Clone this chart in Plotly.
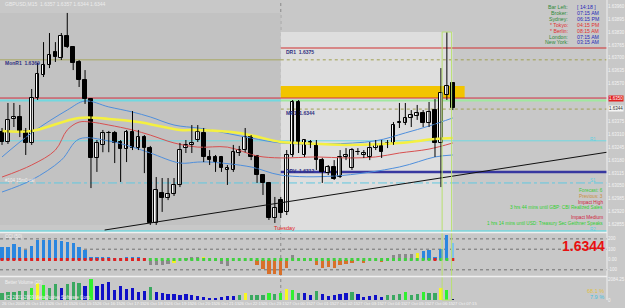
import plotly.graph_objects as go

W, H = 625, 308
ML, MR, MT, MB = 0, 15, 0, 8
PW, PH = W - ML - MR, H - MT - MB

def px(x):
    return (x - ML) / PW

def py(y):
    return (PH - (y - MT)) / PH

FONT = "Liberation Sans"

# ---------------- data ----------------
bars = list(range(77))
opens = [1.63324, 1.63273, 1.63390, 1.63400, 1.63329, 1.63268, 1.63496, 1.63613, 1.63664, 1.63730,
         1.63699, 1.63811, 1.63755, 1.63679, 1.63588, 1.63491, 1.63192, 1.63258, 1.63319, 1.63319,
         1.63273, 1.63237, 1.63324, 1.63242, 1.63298, 1.63242, 1.62862, 1.63014, 1.62989, 1.63009,
         1.63055, 1.63242, 1.63258, 1.63283, 1.63319, 1.63197, 1.63197, 1.63197, 1.63131, 1.63131,
         1.63217, 1.63232, 1.63298, 1.63202, 1.63105, 1.63065, 1.62887, 1.62978, 1.62918, 1.63207,
         1.63476, 1.63207, 1.63273, 1.63258, 1.63181, 1.63115, 1.63146, 1.63095, 1.63197, 1.63141,
         1.63221, 1.63207, 1.63197, 1.63242, 1.63253, 1.63258, 1.63268, 1.63369, 1.63369, 1.63395,
         1.63405, 1.63420, 1.63369, 1.63435, 1.63268, 1.63511, 1.63572]
highs = [1.63344, 1.63471, 1.63471, 1.63461, 1.63344, 1.63542, 1.63674, 1.63780, 1.63826, 1.63780,
         1.63826, 1.63928, 1.63760, 1.63689, 1.63638, 1.63496, 1.63283, 1.63334, 1.63329, 1.63329,
         1.63283, 1.63334, 1.63430, 1.63334, 1.63308, 1.63253, 1.63095, 1.63090, 1.63090, 1.63090,
         1.63268, 1.63283, 1.63359, 1.63359, 1.63344, 1.63232, 1.63207, 1.63202, 1.63156, 1.63258,
         1.63253, 1.63344, 1.63308, 1.63207, 1.63110, 1.63070, 1.62994, 1.62994, 1.63232, 1.63486,
         1.63486, 1.63283, 1.63283, 1.63283, 1.63192, 1.63156, 1.63181, 1.63232, 1.63242, 1.63242,
         1.63242, 1.63232, 1.63273, 1.63283, 1.63283, 1.63283, 1.63374, 1.63471, 1.63471, 1.63435,
         1.63461, 1.63435, 1.63476, 1.63491, 1.63648, 1.63831, 1.63572]
lows = [1.63258, 1.63263, 1.63349, 1.63298, 1.63207, 1.63258, 1.63486, 1.63603, 1.63648, 1.63679,
        1.63689, 1.63750, 1.63638, 1.63552, 1.63466, 1.63039, 1.63121, 1.63221, 1.63221, 1.63166,
        1.63070, 1.63171, 1.63232, 1.63232, 1.63115, 1.62852, 1.62852, 1.62918, 1.62978, 1.62999,
        1.63044, 1.63217, 1.63217, 1.63273, 1.63171, 1.63156, 1.63121, 1.63121, 1.63055, 1.63121,
        1.63202, 1.63221, 1.63181, 1.63065, 1.63004, 1.62877, 1.62862, 1.62887, 1.62902, 1.63197,
        1.63217, 1.63197, 1.63242, 1.63131, 1.63065, 1.63105, 1.63080, 1.63090, 1.63181, 1.63131,
        1.63207, 1.63192, 1.63181, 1.63232, 1.63192, 1.63242, 1.63258, 1.63344, 1.63359, 1.63349,
        1.63385, 1.63349, 1.63349, 1.63197, 1.63044, 1.63486, 1.63435]
closes = [1.63273, 1.63385, 1.63400, 1.63324, 1.63268, 1.63496, 1.63618, 1.63664, 1.63714, 1.63704,
          1.63811, 1.63755, 1.63674, 1.63588, 1.63491, 1.63192, 1.63268, 1.63319, 1.63319, 1.63268,
          1.63237, 1.63324, 1.63242, 1.63298, 1.63242, 1.62862, 1.63029, 1.62989, 1.63009, 1.63055,
          1.63232, 1.63258, 1.63268, 1.63324, 1.63197, 1.63181, 1.63171, 1.63141, 1.63141, 1.63221,
          1.63232, 1.63298, 1.63197, 1.63105, 1.63065, 1.62887, 1.62938, 1.62912, 1.63207, 1.63476,
          1.63273, 1.63283, 1.63258, 1.63181, 1.63121, 1.63146, 1.63085, 1.63197, 1.63207, 1.63232,
          1.63221, 1.63217, 1.63242, 1.63258, 1.63221, 1.63268, 1.63359, 1.63374, 1.63395, 1.63410,
          1.63420, 1.63369, 1.63425, 1.63268, 1.63522, 1.63557, 1.63445]

# moving averages / bands (sampled at bar positions)
ema_bars = [0, 5, 13, 18, 23, 30, 33, 40, 47, 50, 58, 67, 73, 76]
ema_vals = [1.63329, 1.63329, 1.63395, 1.63390, 1.63374, 1.63334, 1.63334, 1.63319, 1.63273, 1.63268,
            1.63258, 1.63268, 1.63288, 1.63293]
mid_bars = [0, 5, 9, 11, 13, 15, 18, 22, 25, 29, 33, 38, 43, 47, 53, 58, 63, 67, 72, 76]
mid_vals = [1.63095, 1.63156, 1.63232, 1.63334, 1.63374, 1.63374, 1.63359, 1.63334, 1.63308, 1.63268,
            1.63247, 1.63247, 1.63202, 1.63192, 1.63197, 1.63192, 1.63197, 1.63217, 1.63237, 1.63268]
up_bars = [0, 5, 11, 14, 18, 22, 25, 29, 33, 35, 42, 47, 55, 63, 68, 72, 76]
up_vals = [1.63197, 1.63319, 1.63435, 1.63481, 1.63451, 1.63425, 1.63400, 1.63359, 1.63344, 1.63334,
           1.63293, 1.63268, 1.63263, 1.63279, 1.63319, 1.63354, 1.63395]
lo_bars = [0, 5, 10, 13, 18, 22, 25, 30, 33, 35, 42, 47, 56, 67, 73, 76]
lo_vals = [1.63019, 1.63080, 1.63181, 1.63288, 1.63278, 1.63247, 1.63217, 1.63166, 1.63171, 1.63171,
           1.63146, 1.63105, 1.63100, 1.63146, 1.63197, 1.63207]

# levels
lvl_monr1 = 1.6369
lvl_dr1 = 1.6375
lvl_mr1 = 1.6344
lvl_dp = 1.6312
lvl_red = 1.63496
lvl_cyan_top = 1.63483
lvl_r1 = 1.63279
lvl_s1 = 1.63065
lvl_bottom = 1.62821
zone_lo, zone_hi = 1.63496, 1.63557
today_high = 1.63831
yday_high, yday_low = 1.63928, 1.62852
trend_bars = [17.3, 102.0]
trend_vals = [1.62826, 1.63221]

cci = [118, 118, 147, 118, 88, 127, 186, 186, 186, 186,
       176, 167, 157, 118, 88, 20, 20, 29, 20, 10,
       5, 20, 20, 20, 5, -49, -49, -49, -39, -35,
       3, 10, 20, 29, 20, 2, 2, -39, -59, 2,
       3, 2, -2, -49, -88, -137, -137, -147, -78, 39,
       2, 2, 2, -49, -78, -69, -78, -49, -39, -34,
       2, -30, 2, 2, -25, 2, 39, 49, 49, 49,
       59, 78, 88, 20, 98, 235, 157]
cci_col = (["b"] * 25 + ["g"] * 4 + ["y", "d", "g", "g", "g", "y", "d", "d", "g", "g", "d",
           "d", "d", "d", "o", "o", "o", "o", "o", "o", "g",
           "d", "d", "d", "o", "o", "o", "o", "o", "o", "o",
           "d", "o", "d", "d", "o", "d", "g", "g", "g", "g",
           "y", "b", "b", "b", "b", "b", "l"])
dot_col = ["r"] * 25 + ["G"] * 48 + ["r", "G", "G", "r"]

vol = [580, 725, 725, 783, 812, 1073, 1450, 1305, 1015, 1363,
       1073, 1363, 1537, 1450, 1247, 1827, 1247, 1363, 1537, 870,
       1247, 928, 1015, 725, 812, 1160, 725, 580, 493, 493,
       435, 520, 435, 348, 290, 203, 145, 290, 348, 348,
       435, 580, 435, 435, 435, 638, 520, 638, 957, 870,
       638, 580, 435, 812, 493, 377, 435, 520, 580, 667,
       520, 290, 348, 435, 290, 435, 435, 493, 667, 435,
       493, 725, 638, 638, 1073, 870, 60]
vol_col = ["g", "g", "g", "g", "g", "L", "y", "L", "g", "g",
           "b", "g", "g", "g", "b", "L", "b", "b", "b", "b",
           "b", "b", "b", "b", "b", "g", "b", "b", "b", "b",
           "b", "b", "b", "b", "b", "b", "b", "b", "b", "b",
           "g", "y", "g", "g", "g", "L", "g", "L", "y", "L",
           "g", "b", "b", "g", "b", "b", "b", "b", "b", "g",
           "b", "b", "b", "b", "b", "g", "g", "g", "L", "g",
           "g", "L", "g", "g", "y", "L", "n"]

tick_bars = list(range(0, 77, 4))
tick_text = ["26 Oct 2009", "26 Oct 13:15", "26 Oct 14:15", "26 Oct 15:15", "26 Oct 16:15",
             "26 Oct 17:15", "26 Oct 18:15", "26 Oct 19:15", "26 Oct 20:15", "26 Oct 21:15",
             "26 Oct 22:15", "26 Oct 23:15", "27 Oct 00:15", "27 Oct 01:15", "27 Oct 02:15",
             "27 Oct 03:15", "27 Oct 04:15", "27 Oct 05:15", "27 Oct 06:15", "27 Oct 07:15"]

info_labels = ["Bar Left:", "Broker:", "Sydney:", "* Tokyo:", "* Berlin:", "London:", "New York:"]
info_values = ["[ 14:18 ]", "07:15 AM", "06:15 PM", "04:15 PM", "08:15 AM", "07:15 AM", "03:15 AM"]
info_red = [False, False, False, True, True, False, False]

news_lines = ["Forecast: 6", "Previous: 3", "Impact High", "3 hrs 44 mins until GBP: CBI Realized Sales",
              "Impact Medium", "1 hrs 14 mins until USD: Treasury Sec Geithner Speaks"]
news_cols = ["#3cc83c", "#c8903c", "#d0203c", "#30d030", "#d0203c", "#30d030"]
news_y = [190, 196, 202, 207.5, 217, 223]

XMIN, XMAX = -0.34, 102.0
YMIN, YMAX = 1.628160, 1.639937

# ---------------- figure ----------------
fig = go.Figure()

fig.add_trace(go.Scatter(x=up_bars, y=up_vals, mode="lines", line=dict(color="#4f8fdc", width=1, shape="spline"),
                         xaxis="x", yaxis="y", hoverinfo="skip"))
fig.add_trace(go.Scatter(x=lo_bars, y=lo_vals, mode="lines", line=dict(color="#4f8fdc", width=1, shape="spline"),
                         xaxis="x", yaxis="y", hoverinfo="skip"))
fig.add_trace(go.Scatter(x=mid_bars, y=mid_vals, mode="lines", line=dict(color="#d85050", width=1, shape="spline"),
                         xaxis="x", yaxis="y", hoverinfo="skip"))
fig.add_trace(go.Scatter(x=ema_bars, y=ema_vals, mode="lines", line=dict(color="#f4f040", width=2.5, shape="spline"),
                         xaxis="x", yaxis="y", hoverinfo="skip"))

wx, wy = [], []
for i, h, l in zip(bars, highs, lows):
    wx += [i, i, None]
    wy += [l, h, None]
fig.add_trace(go.Scatter(x=wx, y=wy, mode="lines", line=dict(color="#000000", width=1),
                         xaxis="x", yaxis="y", hoverinfo="skip"))
base = [min(o, c) for o, c in zip(opens, closes)]
hgt = [max(abs(c - o), 0.00002) for o, c in zip(opens, closes)]
body_col = ["#ffffff" if c > o else "#000000" for o, c in zip(opens, closes)]
fig.add_trace(go.Bar(x=bars, y=hgt, base=base, width=0.62, marker=dict(color=body_col, line=dict(color="#000000", width=1)),
                     xaxis="x", yaxis="y", hoverinfo="skip"))

fig.add_trace(go.Scatter(x=trend_bars, y=trend_vals, mode="lines", line=dict(color="#101010", width=1),
                         xaxis="x", yaxis="y", hoverinfo="skip", cliponaxis=True))

cmap = {"b": "#2a86e0", "g": "#8a8a8a", "o": "#d8702a", "y": "#f0f020", "l": "#7cc0f0", "d": "rgba(0,0,0,0)"}
fig.add_trace(go.Bar(x=bars, y=cci, base=0, width=0.55,
                     marker=dict(color=[cmap[c] for c in cci_col], line=dict(width=0)),
                     xaxis="x", yaxis="y2", hoverinfo="skip"))
dmap = {"r": "#e02020", "G": "#40d040"}
fig.add_trace(go.Scatter(x=bars, y=[0] * len(bars), mode="markers",
                         marker=dict(symbol="square", size=3, color=[dmap[c] for c in dot_col]),
                         xaxis="x", yaxis="y2", hoverinfo="skip"))

vmap = {"g": "#3aa860", "L": "#30f030", "y": "#f8f820", "b": "#1010c8", "n": "#101060"}
fig.add_trace(go.Bar(x=bars, y=vol, width=0.55, marker=dict(color=[vmap[c] for c in vol_col], line=dict(width=0)),
                     xaxis="x", yaxis="y3", hoverinfo="skip"))

shapes = []
shapes.append(dict(type="rect", xref="x", yref="y", x0=XMIN, x1=47, y0=yday_low, y1=yday_high,
                   fillcolor="#c2c2c2", line=dict(width=0), layer="below"))
shapes.append(dict(type="rect", xref="x", yref="y", x0=47, x1=76, y0=YMIN, y1=today_high,
                   fillcolor="#dedede", line=dict(width=0), layer="below"))
shapes.append(dict(type="rect", xref="x", yref="y", x0=47, x1=78, y0=zone_lo, y1=zone_hi,
                   fillcolor="#f2c400", line=dict(width=0), layer="below"))

def hline(x0, x1, y, color, width=1, dash="solid"):
    shapes.append(dict(type="line", xref="x", yref="y", x0=x0, x1=x1, y0=y, y1=y,
                       line=dict(color=color, width=width, dash=dash), layer="below"))
hline(XMIN, 47, lvl_monr1, "#a8a860", 1)
hline(47, XMAX, lvl_monr1, "#a0a050", 1, "dot")
hline(47, XMAX, lvl_dr1, "#d03030", 1)
hline(47, XMAX, lvl_mr1, "#a0a050", 1, "dot")
hline(XMIN, XMAX, lvl_red, "#d03040", 1)
hline(XMIN, 47, lvl_cyan_top, "#70d8e0", 2)
hline(47, XMAX, lvl_cyan_top, "#a0e8a0", 2)
hline(XMIN, XMAX, lvl_r1, "#70d8e0", 1)
hline(47, XMAX, lvl_dp, "#3838a0", 2.5)
hline(XMIN, XMAX, lvl_s1, "#60c8e0", 1, "dashdot")
hline(XMIN, XMAX, lvl_bottom, "#70d8e0", 1.5)
shapes.append(dict(type="line", xref="x", yref="paper", x0=47, x1=47, y0=0, y1=1,
                   line=dict(color="#8a8a8a", width=1, dash="dot"), layer="below"))
shapes.append(dict(type="rect", xref="x", yref="paper", x0=74.2, x1=75.8, y0=0, y1=py(32),
                   line=dict(color="#b8e070", width=1), fillcolor="rgba(0,0,0,0)", layer="above"))
for lv in [200, 100, -100]:
    shapes.append(dict(type="line", xref="x", yref="y2", x0=XMIN, x1=XMAX, y0=lv, y1=lv,
                       line=dict(color="#707070", width=1, dash="dot"), layer="below"))
for yy in [232.5, 276.5]:
    shapes.append(dict(type="line", xref="paper", yref="paper", x0=0, x1=1, y0=py(yy), y1=py(yy),
                       line=dict(color="#f0f0f0", width=1.5)))
shapes.append(dict(type="line", xref="paper", yref="paper", x0=1, x1=1, y0=0, y1=1,
                   line=dict(color="#f0f0f0", width=1)))

ann = []
def text(x, y, s, color, size=6, anchor="left", bold=False, bg=None):
    d = dict(xref="paper", yref="paper", x=px(x), y=py(y), text=("<b>%s</b>" % s) if bold else s,
             showarrow=False, xanchor=anchor, yanchor="middle",
             font=dict(family=FONT, size=size, color=color))
    if bg:
        d["bgcolor"] = bg
        d["borderpad"] = 0
    ann.append(d)

text(3, 4, "GBPUSD,M15  1.6357 1.6357 1.6344 1.6344", "#ececec", 5)
for k, (lab, val, red) in enumerate(zip(info_labels, info_values, info_red)):
    yy = 7 + k * 5.9
    text(573, yy, lab, "#e03030" if red else "#2e8a3a", 5.2, "right")
    text(578, yy, val, "#e03030" if red else "#2828b8", 5.2, "left")
for s, c, yy in zip(news_lines, news_cols, news_y):
    text(608, yy, s, c, 4.7, "right")
text(610, 246, "1.6344", "#e81010", 14, "right", bold=True)
text(286, 228, "Tuesday", "#e02020", 5.5, "center")
text(3, 63, "MonR1  1.6369", "#303080", 5, "left", bold=True)
text(285, 52, "DR1  1.6375", "#303080", 5, "left", bold=True)
text(285, 113, "MR1  1.6344", "#303080", 5, "left", bold=True)
text(285, 171, "DPV  1.6312", "#303080", 5, "left", bold=True)
text(3, 181, "#104 15m0 val", "#f0f0f0", 4.5)
text(596, 139, "R1", "#60d0e0", 4.5, "center")
text(596, 180, "S1", "#60d0e0", 4.5, "center")
text(596, 229, "R2", "#60d0e0", 4.5, "center")
text(3, 236, "CCI (50)", "#f0f0f0", 4.5)
text(3, 282, "Better Volume (20)", "#f0f0f0", 4.5)
text(3, 297, "(C) 2001-2009 MetaQuotes Software Corp.", "#f0f0f0", 4.5)
text(609, 291, "68.1 %", "#e0c040", 5.5, "right")
text(609, 297, "7.9 %", "#40c0e0", 5.5, "right")
text(611, 98, "1.6350", "#ffffff", 4.5, "left", bg="#e02020")
text(611, 108, "1.6344", "#303030", 4.5, "left", bg="#f4f4f4")

fig.update_layout(
    width=W, height=H, margin=dict(l=ML, r=MR, t=MT, b=MB, pad=0),
    paper_bgcolor="#c8c8c8", plot_bgcolor="#c8c8c8",
    showlegend=False, barmode="overlay", bargap=0,
    shapes=shapes, annotations=ann,
    xaxis=dict(range=[XMIN, XMAX], anchor="y3", showgrid=False, zeroline=False, showline=False,
               tickmode="array", tickvals=tick_bars, ticktext=tick_text, tickangle=0,
               ticklabelposition="outside right", ticks="", tickfont=dict(family=FONT, size=4.2, color="#f4f4f4")),
    yaxis=dict(domain=[py(232), 1], range=[YMIN, YMAX], side="right", anchor="x", showgrid=False,
               zeroline=False, tickmode="array",
               tickvals=[1.63960, 1.63895, 1.63830, 1.63765, 1.63700, 1.63635, 1.63570, 1.63375,
                         1.63310, 1.63245, 1.63180, 1.63115, 1.63050, 1.62985, 1.62920, 1.62855],
               tickformat=".5f", ticks="",
               tickfont=dict(family=FONT, size=4.5, color="#f4f4f4")),
    yaxis2=dict(domain=[py(276), py(233)], range=[-160, 257], side="right", anchor="x", showgrid=False,
                zeroline=False, tickmode="array", tickvals=[200, 100, 0, -100], ticktext=["200", "100", "0.00", "-100"],
                ticks="", tickfont=dict(family=FONT, size=4.5, color="#f4f4f4")),
    yaxis3=dict(domain=[0, py(277)], range=[0, 2000], side="right", anchor="x", showgrid=False,
                zeroline=False, tickmode="array", tickvals=[1800, 0], ticktext=["2084.25", "0"], ticks="",
                tickfont=dict(family=FONT, size=4.5, color="#f4f4f4")),
)

fig.write_html("out.html")
